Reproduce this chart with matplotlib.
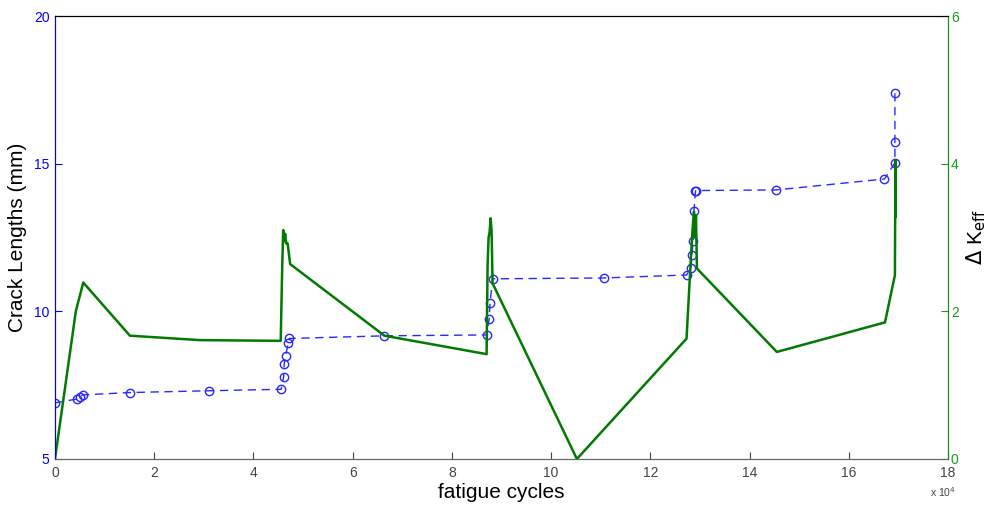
import matplotlib.pyplot as plt
from matplotlib.ticker import FuncFormatter

plt.rcParams['font.family'] = ['Liberation Sans', 'DejaVu Sans']

# crack length measurements (cycles, mm)
crack_cycles = [0, 4400, 5000, 5600, 15100, 31000, 45600, 46100, 46200, 46500,
                47000, 47200, 66400, 87000, 87500, 87700, 88200, 110700,
                127300, 128200, 128400, 128600, 128800, 129100, 129200,
                145300, 167200, 169300, 169300, 169300]
crack_mm = [6.90, 7.03, 7.11, 7.17, 7.25, 7.31, 7.36, 7.79, 8.22, 8.50,
            8.92, 9.08, 9.17, 9.20, 9.73, 10.29, 11.10, 11.13,
            11.23, 11.46, 11.90, 12.39, 13.40, 14.07, 14.09,
            14.11, 14.48, 15.03, 15.72, 17.38]

# effective stress intensity range
dk_cycles = [0, 4200, 5700, 15100, 29200, 45500, 45800, 46000, 46200, 46400,
             46600, 46900, 47400, 66400, 87000, 87200, 87400, 87600, 87800,
             88000, 88200, 105200, 127300, 127900, 128500, 128800, 129000,
             129200, 129400, 145500, 167300, 169300, 169400, 169400]
dk_vals = [0.0, 2.0, 2.39, 1.67, 1.61, 1.60, 2.6, 3.10, 2.95, 3.05,
           2.92, 2.92, 2.64, 1.67, 1.42, 2.63, 3.0, 3.07, 3.26, 3.10,
           2.38, 0.0, 1.63, 2.38, 3.10, 3.35, 3.0, 3.30, 2.58, 1.45,
           1.85, 2.49, 4.05, 3.28]

fig = plt.figure(figsize=(9.96, 5.08), dpi=100)
ax = fig.add_axes([0.0552, 0.0965, 0.8966, 0.872])
ax2 = ax.twinx()

ax.plot(crack_cycles, crack_mm, '--o', color='#2828ff', lw=1,
        markersize=6, markerfacecolor='none', markeredgewidth=1, dashes=(6, 4))
ax2.plot(dk_cycles, dk_vals, '-', color='#007a00', lw=1.8)

ax.set_xlim(0, 180000)
ax.set_ylim(5, 20)
ax2.set_ylim(0, 6)
ax.set_xticks(range(0, 180001, 20000))
ax.set_yticks([5, 10, 15, 20])
ax2.set_yticks([0, 2, 4, 6])
ax.xaxis.set_major_formatter(FuncFormatter(lambda v, p: f"{v / 1e4:g}"))

ax.tick_params(axis='x', direction='in', length=5, labelsize=10,
               colors='#444444', pad=5)
ax.tick_params(axis='y', direction='in', length=5, labelsize=10,
               colors='blue', pad=4)
ax2.tick_params(axis='y', direction='in', length=5, labelsize=10,
                colors='#1a9a1a', pad=2)

for a in (ax, ax2):
    a.spines['bottom'].set_color('#666666')
    a.spines['top'].set_color('black')
    a.spines['left'].set_color('blue')
    a.spines['right'].set_color('#1a8a1a')

ax.set_xlabel('fatigue cycles', fontsize=15, labelpad=2)
ax.set_ylabel('Crack Lengths (mm)', fontsize=15, labelpad=5)
ax2.set_ylabel(r'$\Delta$ K$_{\mathrm{eff}}$', fontsize=15, labelpad=4,
               rotation=90)

fig.text(0.934, 0.022, r'x 10$^{4}$', fontsize=7.5, color='#444444')

fig.savefig('out.png', dpi=100)
